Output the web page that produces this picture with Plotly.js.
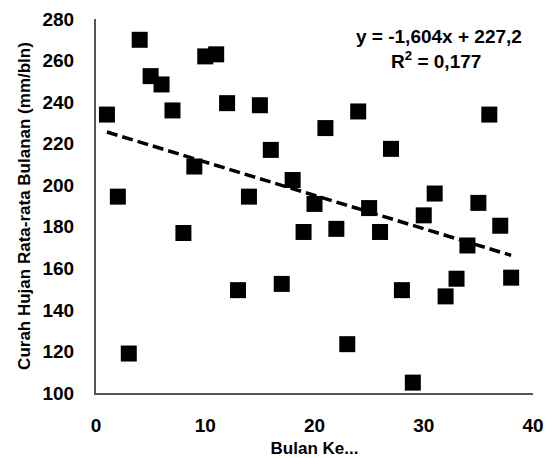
<!DOCTYPE html>
<html>
<head>
<meta charset="utf-8">
<script src="https://cdn.plot.ly/plotly-3.0.1.min.js"></script>
<style>html,body{margin:0;padding:0;background:#fff;}#chart{width:547px;height:458px;}</style>
</head>
<body>
<div id="chart"></div>
<script>
// Month index (Bulan Ke...)
const months = [1,2,3,4,5,6,7,8,9,10,11,12,13,14,15,16,17,18,19,20,21,22,23,24,25,26,27,28,29,30,31,32,33,34,35,36,37,38];
// Average monthly rainfall (mm/bln)
const rainfall = [234,194.5,119,270,252.5,248.5,236,177,209,262,263,239.5,149.5,194.5,238.5,217,152.5,202.5,177.5,191,227.5,179,123.5,235.5,189,177.5,217.5,149.5,105,185.5,196,146.5,155,171,191.5,234,180.5,155.5];
// Linear trend as printed on the chart
const trendSlope = -1.604;
const trendIntercept = 227.2;
const trendX = [1, 38];
const eqText = 'y = -1,604x + 227,2';
const r2Text = 'R<sup>2</sup> = 0,177';
const xTicks = [0,10,20,30,40];
const yTicks = [100,120,140,160,180,200,220,240,260,280];

const trendY = trendX.map(x => trendSlope * x + trendIntercept);
const FONT = 'Liberation Sans, Arial, sans-serif';

const data = [
  {
    x: months, y: rainfall, type: 'scatter', mode: 'markers',
    marker: {symbol: 'square', size: 16, color: '#000', line: {width: 0}},
    cliponaxis: false, showlegend: false, hoverinfo: 'x+y'
  },
  {
    x: trendX, y: trendY, type: 'scatter', mode: 'lines',
    line: {color: '#000', width: 3.5, dash: '11px,5px'},
    showlegend: false, hoverinfo: 'skip'
  }
];

const layout = {
  width: 547, height: 458,
  margin: {l: 96, r: 14, t: 19, b: 65, pad: 0},
  paper_bgcolor: '#fff', plot_bgcolor: '#fff',
  font: {family: FONT, color: '#000', size: 17},
  showlegend: false,
  xaxis: {
    range: [0, 40], tickvals: xTicks, ticktext: xTicks.map(String),
    showgrid: false, zeroline: false, showline: true, linecolor: '#555', linewidth: 2,
    ticks: '', ticklabelstandoff: 14,
    tickfont: {family: FONT, size: 19, color: '#000', weight: 'bold'},
    title: {text: 'Bulan Ke...', font: {family: FONT, size: 17, color: '#000', weight: 'bold'}, standoff: 11},
    automargin: false, fixedrange: true
  },
  yaxis: {
    range: [100, 280], tickvals: yTicks, ticktext: yTicks.map(String),
    showgrid: false, zeroline: false, showline: true, linecolor: '#555', linewidth: 2,
    ticks: '', ticklabelstandoff: 16,
    tickfont: {family: FONT, size: 19, color: '#000', weight: 'bold'},
    title: {text: 'Curah Hujan Rata-rata Bulanan (mm/bln)', font: {family: FONT, size: 17, color: '#000', weight: 'bold'}, standoff: 8},
    automargin: false, fixedrange: true
  },
  annotations: [
    {x: 31.4, y: 271.5, xref: 'x', yref: 'y', text: eqText, showarrow: false,
     font: {family: FONT, size: 19, color: '#000', weight: 'bold'}, xanchor: 'center', yanchor: 'middle'},
    {x: 31.1, y: 260.5, xref: 'x', yref: 'y', text: r2Text, showarrow: false,
     font: {family: FONT, size: 19, color: '#000', weight: 'bold'}, xanchor: 'center', yanchor: 'middle'}
  ]
};

Plotly.newPlot('chart', data, layout, {displayModeBar: false, staticPlot: true});
</script>
</body>
</html>
